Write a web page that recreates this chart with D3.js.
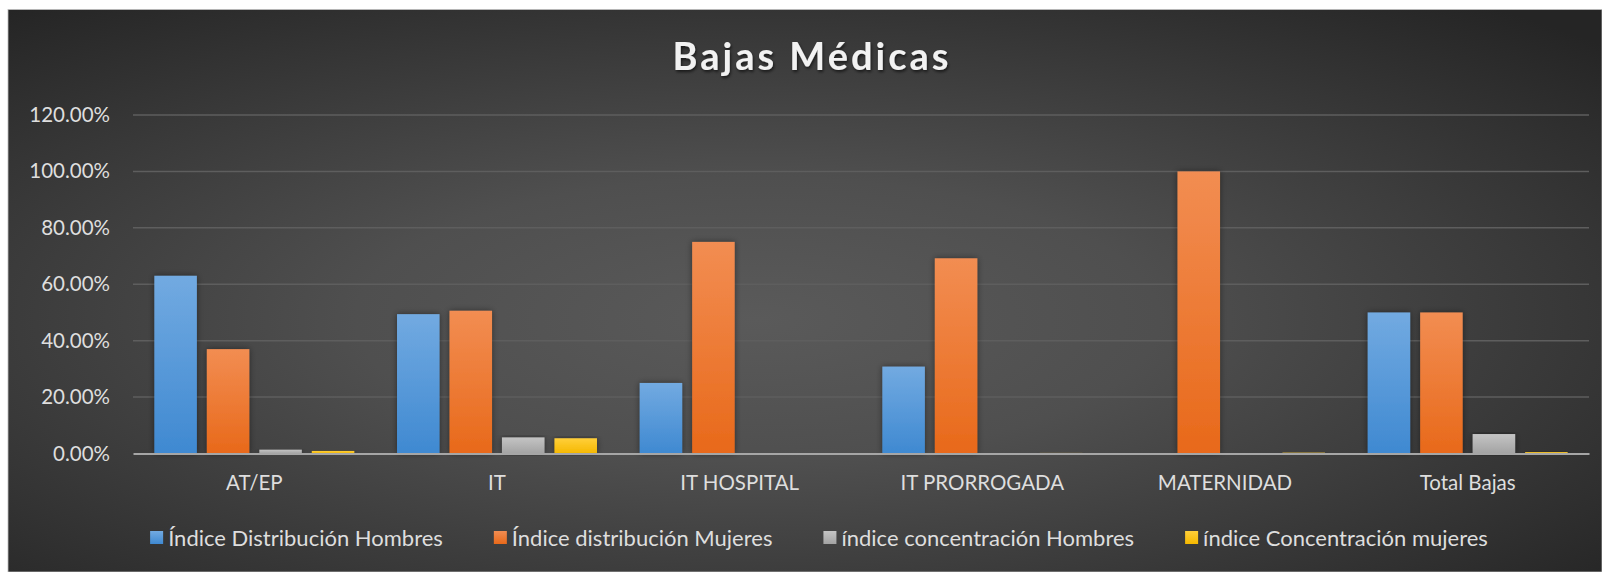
<!DOCTYPE html>
<html>
<head>
<meta charset="utf-8">
<script src="https://cdnjs.cloudflare.com/ajax/libs/d3/7.8.5/d3.min.js"></script>
<style>
  html, body { margin: 0; padding: 0; background: #ffffff; }
  svg { display: block; }
  text { font-family: Lato, "Open Sans", sans-serif; }
</style>
</head>
<body>
<div id="chart"></div>
<script>
// data
var categories = ["AT/EP", "IT", "IT HOSPITAL", "IT PRORROGADA", "MATERNIDAD", "Total Bajas"];
var seriesNames = ["Índice Distribución Hombres", "Índice distribución Mujeres",
  "índice concentración Hombres", "índice Concentración mujeres"];
var distHombres = [0.630, 0.494, 0.250, 0.308, 0.000, 0.500];
var distMujeres = [0.370, 0.506, 0.750, 0.692, 1.000, 0.500];
var concHombres = [0.0135, 0.057, 0.001, 0.001, 0.000, 0.069];
var concMujeres = [0.009, 0.054, 0.001, 0.002, 0.003, 0.005];
var yTicks = [0, 0.2, 0.4, 0.6, 0.8, 1.0, 1.2];

var seriesValues = [distHombres, distMujeres, concHombres, concMujeres];
var seriesTop = ["#72aae1", "#f28d52", "#c4c4c4", "#ffcf3a"];
var seriesBottom = ["#3f89d1", "#e8691a", "#a3a3a3", "#f5b800"];

var width = 1602;
var height = 572;
var plot = { left: 133, right: 1589, top: 115, bottom: 453.5 };

var svg = d3.select("#chart").append("svg")
  .attr("width", width)
  .attr("height", height);

var defs = svg.append("defs");

var bg = defs.append("radialGradient")
  .attr("id", "bg")
  .attr("cx", 0.47).attr("cy", 0.55).attr("r", 0.72);
bg.append("stop").attr("offset", 0).attr("stop-color", "#5a5a5a");
bg.append("stop").attr("offset", 0.35).attr("stop-color", "#4f4f4f");
bg.append("stop").attr("offset", 1).attr("stop-color", "#252525");

seriesTop.forEach(function (c, i) {
  var g = defs.append("linearGradient")
    .attr("id", "bar" + i)
    .attr("x1", 0).attr("y1", 0).attr("x2", 0).attr("y2", 1);
  g.append("stop").attr("offset", 0).attr("stop-color", c);
  g.append("stop").attr("offset", 1).attr("stop-color", seriesBottom[i]);
});

var shadow = defs.append("filter").attr("id", "shadow")
  .attr("x", "-30%").attr("y", "-10%").attr("width", "160%").attr("height", "120%");
shadow.append("feDropShadow")
  .attr("dx", 0).attr("dy", 0).attr("stdDeviation", 3)
  .attr("flood-color", "#000").attr("flood-opacity", 0.45);

var titleShadow = defs.append("filter").attr("id", "tshadow");
titleShadow.append("feDropShadow")
  .attr("dx", 1).attr("dy", 2).attr("stdDeviation", 1.5)
  .attr("flood-color", "#000").attr("flood-opacity", 0.6);

// chart background
svg.append("rect")
  .attr("x", 8).attr("y", 9.5)
  .attr("width", width - 8).attr("height", height - 9.5)
  .attr("fill", "url(#bg)")
  .attr("stroke", "#bdbdbd")
  .attr("stroke-width", 0.8);

// title
svg.append("text")
  .attr("x", 812)
  .attr("y", 70)
  .attr("text-anchor", "middle")
  .attr("fill", "#f2f2f2")
  .attr("font-size", 38)
  .attr("font-weight", "bold")
  .attr("letter-spacing", 3)
  .attr("filter", "url(#tshadow)")
  .text("Bajas Médicas");

// scales
var x0 = d3.scaleBand()
  .domain(categories)
  .range([plot.left, plot.right])
  .paddingInner(0.176)
  .paddingOuter(0.088);

var x1 = d3.scaleBand()
  .domain(d3.range(seriesValues.length))
  .range([0, x0.bandwidth()])
  .paddingInner(0.19);

var y = d3.scaleLinear()
  .domain([0, 1.2])
  .range([plot.bottom, plot.top]);

// gridlines
svg.append("g")
  .selectAll("line")
  .data(yTicks.filter(function (d) { return d > 0; }))
  .join("line")
  .attr("x1", plot.left)
  .attr("x2", plot.right)
  .attr("y1", function (d) { return y(d); })
  .attr("y2", function (d) { return y(d); })
  .attr("stroke", "#5e5e5e")
  .attr("stroke-width", 1.5);

// y axis labels
var yAxis = d3.axisLeft(y)
  .tickValues(yTicks)
  .tickFormat(d3.format(".2%"))
  .tickSize(0)
  .tickPadding(23);

var yg = svg.append("g")
  .attr("transform", "translate(" + plot.left + ",0)")
  .call(yAxis);
yg.select(".domain").remove();
yg.selectAll("text")
  .attr("fill", "#dedede")
  .attr("font-size", 20.5)
  .attr("font-family", "Lato, 'Open Sans', sans-serif");

// bars
var groups = svg.append("g")
  .selectAll("g")
  .data(categories)
  .join("g")
  .attr("transform", function (d) { return "translate(" + x0(d) + ",0)"; });

groups.selectAll("rect")
  .data(function (cat, ci) {
    return seriesValues.map(function (vals, si) {
      return { series: si, value: vals[ci] };
    });
  })
  .join("rect")
  .attr("x", function (d) { return x1(d.series); })
  .attr("width", x1.bandwidth())
  .attr("y", function (d) { return y(d.value); })
  .attr("height", function (d) { return y(0) - y(d.value); })
  .attr("fill", function (d) { return "url(#bar" + d.series + ")"; })
  .attr("filter", "url(#shadow)");

// x axis
var xAxis = d3.axisBottom(x0)
  .tickSize(0)
  .tickPadding(22);

var xg = svg.append("g")
  .attr("transform", "translate(0," + y(0) + ")")
  .call(xAxis);
xg.select(".domain")
  .attr("stroke", "#a6a6a6")
  .attr("stroke-width", 2);
xg.selectAll("text")
  .attr("fill", "#dedede")
  .attr("font-size", 20.5)
  .attr("font-family", "Lato, 'Open Sans', sans-serif");

// legend
var legend = svg.append("g");
var items = legend.selectAll("g")
  .data(seriesNames)
  .join("g");

items.append("rect")
  .attr("width", 13)
  .attr("height", 13)
  .attr("y", -7)
  .attr("fill", function (d, i) { return "url(#bar" + i + ")"; });

items.append("text")
  .attr("x", 18)
  .attr("y", 0)
  .attr("dy", "0.35em")
  .attr("fill", "#dedede")
  .attr("font-size", 22)
  .text(function (d) { return d; });

var offsets = [];
var pos = 0;
items.each(function (d, i) {
  offsets.push(pos);
  var w = 18 + d3.select(this).select("text").node().getComputedTextLength();
  pos += w + 51;
});
var legendWidth = pos - 51;
var legendStart = 819 - legendWidth / 2;
items.attr("transform", function (d, i) {
  return "translate(" + (legendStart + offsets[i]) + ",538)";
});
</script>
</body>
</html>
